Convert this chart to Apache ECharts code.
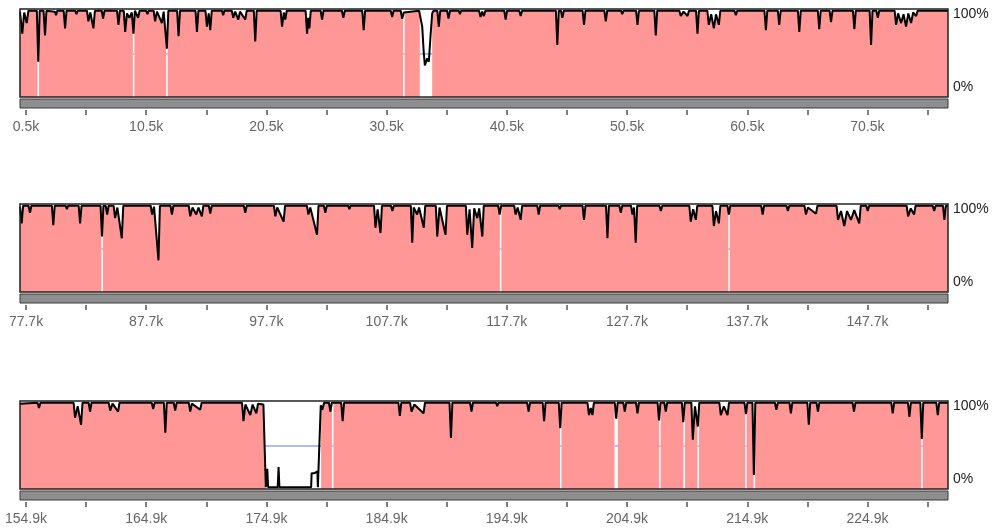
<!DOCTYPE html>
<html>
<head>
<meta charset="utf-8">
<script src="https://cdn.jsdelivr.net/npm/echarts@6/dist/echarts.min.js"></script>
<style>html,body{margin:0;padding:0;background:#fff}#c{width:1000px;height:532px}</style>
</head>
<body>
<div id="c"></div>
<script>
// ---- data (positions in kb, conservation in %) ----
const ranges = [[0, 77.2], [77.2, 154.4], [154.4, 231.6]];
const tickLabels1 = [0.5, 10.5, 20.5, 30.5, 40.5, 50.5, 60.5, 70.5];
const tickLabels2 = [77.7, 87.7, 97.7, 107.7, 117.7, 127.7, 137.7, 147.7];
const tickLabels3 = [154.9, 164.9, 174.9, 184.9, 194.9, 204.9, 214.9, 224.9];
const minorTicks1 = [5.5, 15.5, 25.5, 35.5, 45.5, 55.5, 65.5, 75.5];
const minorTicks2 = [82.7, 92.7, 102.7, 112.7, 122.7, 132.7, 142.7, 152.7];
const minorTicks3 = [159.9, 169.9, 179.9, 189.9, 199.9, 209.9, 219.9, 229.9];
const yLabels = [0, 100];
const threshold = 49;

const curve1 = [
[0,97],[0.19,72],[0.35,96],[0.56,84],[0.7,98],
[1.40,98],[1.52,40],[1.64,98],
[1.96,98],[2.08,70],[2.2,98],
[2.9,97],[3.0,93],[3.1,98],
[3.63,98],[3.75,78],[3.87,98],
[4.6,98],[4.7,94],[4.8,98],
[5.57,98],[5.69,86],[5.85,96],[6.11,78],[6.23,98],
[6.8,98],[6.91,89],[7.03,98],
[8.07,98],[8.19,82],[8.31,98],
[8.63,98],[8.75,74],[8.9,95],[9.1,90],[9.3,96],[9.44,72],[9.56,98],
[9.71,98],[9.83,90],[9.95,98],
[10.5,98],[10.6,94],[10.7,98],
[11.12,98],[11.24,86],[11.4,97],[11.8,84],[11.95,97],[12.22,55],[12.34,98],
[13.07,98],[13.19,69],[13.31,98],
[14.6,98],[14.72,74],[14.84,98],
[15.43,98],[15.55,80],[15.7,95],[15.83,76],[15.95,98],
[16.8,98],[16.9,93],[17.0,98],
[17.62,98],[17.74,90],[17.9,97],[18.16,88],[18.3,97],[18.74,88],[18.86,98],
[19.45,98],[19.57,63],[19.69,98],
[21.68,98],[21.8,80],[21.95,96],[22.07,88],[22.19,98],
[23.76,98],[23.88,72],[23.98,90],[24.07,78],[24.19,98],
[25.01,98],[25.13,88],[25.25,98],
[26.78,98],[26.9,90],[27.02,98],
[28.47,98],[28.59,76],[28.71,98],
[30.84,98],[30.96,91],[31.08,98],
[31.67,98],[31.79,89],[31.93,96],[32.05,98],
[33.2,98],[33.46,80],[33.59,50],[33.68,36],[33.88,44],[34.01,40],[34.15,69],[34.29,95],[34.4,98],
[34.72,98],[34.84,80],[34.96,98],
[35.53,98],[35.65,89],[35.77,98],
[36.5,98],[36.6,94],[36.7,98],
[38.19,98],[38.31,91],[38.45,97],[38.59,92],[38.71,98],
[40.28,98],[40.4,88],[40.52,98],
[41.53,98],[41.65,92],[41.77,98],
[44.58,98],[44.7,59],[44.82,98],
[45.0,98],[45.12,90],[45.24,98],
[46.8,98],[46.92,82],[47.04,98],
[48.61,98],[48.73,86],[48.85,98],
[50.0,98],[50.1,94],[50.2,98],
[51.25,98],[51.37,82],[51.49,98],
[52.77,98],[52.89,70],[53.01,98],
[54.85,98],[54.97,92],[55.2,97],[55.53,92],[55.65,98],
[56.24,98],[56.36,72],[56.48,98],
[57.18,98],[57.3,82],[57.5,94],[57.72,78],[57.9,94],[58.14,82],[58.26,98],
[59.43,98],[59.55,93],[59.67,98],
[61.93,98],[62.05,76],[62.17,98],
[63.04,98],[63.16,82],[63.28,98],
[64.71,98],[64.83,74],[64.95,98],
[66.37,98],[66.49,77],[66.61,98],
[67.35,98],[67.47,85],[67.59,98],
[69.29,98],[69.41,77],[69.53,98],
[70.68,98],[70.8,59],[70.92,98],
[71.24,98],[71.36,90],[71.48,98],
[72.76,98],[72.88,82],[73.05,95],[73.3,84],[73.5,94],[73.71,80],[73.9,95],[74.13,84],[74.3,96],[74.55,92],[74.67,98],
[77.2,98]
];
const gaps1 = [[1.46,1.58],[9.39,9.5],[12.16,12.28],[31.87,31.99],[33.26,34.29]];

const curve2 = [
[77.2,97],[77.34,78],[77.46,98],
[77.91,98],[78.03,90],[78.15,98],
[79.85,98],[79.97,76],[80.09,98],
[81.0,98],[81.1,94],[81.2,98],
[82.08,98],[82.2,78],[82.32,98],
[83.9,98],[84.02,63],[84.14,98],
[84.33,98],[84.45,88],[84.57,98],
[84.99,98],[85.11,84],[85.3,96],[85.67,61],[85.79,98],
[88.07,98],[88.19,88],[88.35,97],[88.72,36],[88.84,98],
[89.72,98],[89.84,88],[89.96,98],
[91.24,98],[91.36,86],[91.55,96],[91.86,88],[92.05,96],[92.33,86],[92.45,98],
[92.91,98],[93.03,89],[93.15,98],
[95.82,98],[95.94,90],[96.06,98],
[98.32,98],[98.44,86],[98.6,96],[99.13,80],[99.25,98],
[101.07,98],[101.19,88],[101.35,96],[101.91,65],[102.03,98],
[102.48,98],[102.6,90],[102.72,98],
[104.5,98],[104.6,94],[104.7,98],
[106.65,98],[106.77,73],[106.95,94],[107.19,67],[107.31,98],
[108.06,98],[108.18,92],[108.3,98],
[109.71,98],[109.83,56],[109.95,96],[110.24,88],[110.4,96],[110.79,73],[110.91,98],
[111.79,98],[111.91,63],[112.1,96],[112.6,65],[112.72,98],
[114.29,98],[114.41,65],[114.6,94],[114.82,50],[114.98,95],[115.24,84],[115.4,95],[115.66,63],[115.78,98],
[116.98,98],[117.1,88],[117.22,98],
[118.31,98],[118.43,88],[118.6,96],[118.85,82],[118.97,98],
[120.23,98],[120.35,88],[120.47,98],
[122.0,98],[122.1,94],[122.2,98],
[124.0,98],[124.12,82],[124.24,98],
[125.95,98],[126.07,61],[126.19,98],
[127.06,98],[127.18,90],[127.3,98],
[128.03,98],[128.15,88],[128.28,96],[128.42,56],[128.54,98],
[130.39,98],[130.51,92],[130.63,98],
[132.88,98],[133.0,80],[133.2,94],[133.42,82],[133.54,98],
[134.8,98],[134.92,75],[135.1,92],[135.34,78],[135.46,98],
[136.05,98],[136.17,88],[136.29,98],
[138.86,98],[138.98,88],[139.1,98],
[140.96,98],[141.08,92],[141.2,98],
[142.46,98],[142.58,88],[142.75,96],[143.42,89],[143.54,98],
[145.13,98],[145.25,82],[145.5,92],[145.77,75],[146.0,92],[146.33,82],[146.6,93],[147.02,78],[147.14,98],
[147.6,98],[147.72,92],[147.84,98],
[150.96,98],[151.08,86],[151.3,95],[151.58,88],[151.7,98],
[153.13,98],[153.25,92],[153.37,98],
[153.98,98],[154.1,82],[154.22,98],
[154.4,98]
];
const gaps2 = [[83.98,84.1],[117.12,117.24],[136.13,136.25]];

const curve3 = [
[154.4,97],
[155.86,98],[155.98,92],[156.1,98],
[158.86,98],[158.98,81],[159.2,94],[159.48,73],[159.6,98],
[160.11,98],[160.23,88],[160.35,98],
[161.78,98],[161.9,89],[162.1,97],[162.56,88],[162.68,98],
[165.36,98],[165.48,91],[165.6,98],
[166.37,98],[166.49,64],[166.61,98],
[167.19,98],[167.31,89],[167.43,98],
[168.44,98],[168.56,88],[168.7,97],[169.39,90],[169.51,98],
[172.87,98],[172.99,77],[173.15,96],[173.56,84],[173.75,96],[174.06,86],[174.2,97],
[174.65,96],[174.85,2],[174.9,2],[174.97,23],[175.04,2],[175.84,2],[175.91,25],[175.98,2],
[178.62,2],[178.66,18],[178.9,18],[178.95,20],[179.14,20],[179.18,2],[179.3,2],[179.42,95],
[179.55,90],[179.7,98],
[180.1,98],[180.22,88],[180.34,98],
[181.12,98],[181.24,77],[181.36,98],
[185.88,98],[186.0,83],[186.12,98],
[186.85,98],[186.97,88],[187.2,96],[187.97,86],[188.09,98],
[190.13,98],[190.25,58],[190.37,98],
[191.84,98],[191.96,88],[192.08,98],
[194.0,98],[194.1,94],[194.2,98],
[196.59,98],[196.71,88],[196.83,98],
[197.88,98],[198.0,77],[198.12,98],
[199.22,98],[199.34,69],[199.46,98],
[201.61,98],[201.73,84],[201.88,92],[202.02,84],[202.14,98],
[203.88,98],[204.0,80],[204.12,98],
[204.59,98],[204.71,88],[204.83,98],
[205.65,98],[205.77,86],[205.89,98],
[207.44,98],[207.56,78],[207.68,98],
[208.0,98],[208.12,88],[208.24,98],
[209.46,98],[209.58,76],[209.7,98],
[210.25,98],[210.37,56],[210.55,94],[210.79,71],[210.91,98],
[212.58,98],[212.7,84],[212.95,94],[213.26,84],[213.38,98],
[214.67,98],[214.79,85],[214.91,98],
[215.33,98],[215.45,16],[215.57,98],
[217.2,98],[217.32,90],[217.44,98],
[218.41,98],[218.53,86],[218.65,98],
[219.9,98],[220.02,73],[220.14,98],
[220.66,98],[220.78,88],[220.9,98],
[223.66,98],[223.78,88],[223.9,98],
[226.88,98],[227.0,86],[227.12,98],
[228.27,98],[228.39,82],[228.51,98],
[229.3,98],[229.42,57],[229.54,98],
[230.63,98],[230.75,84],[230.87,98],
[231.6,98]
];
const gaps3 = [[174.81,179.45],[180.35,180.47],[199.32,199.44],[203.86,204.14],[207.57,207.69],[209.6,209.72],[210.76,210.88],[214.73,214.85],[215.43,215.55],[229.37,229.49]];

// ---- layout / style ----
const curves = [curve1, curve2, curve3];
const gaps = [gaps1, gaps2, gaps3];
const labels = [tickLabels1, tickLabels2, tickLabels3];
const minors = [minorTicks1, minorTicks2, minorTicks3];
const tops = [9, 204, 401];
const H = 88, L = 20, W = 928;
const PINK = '#ff9797';
const FONT = '"Liberation Sans", Arial, sans-serif';

const grid = [], xAxis = [], yAxis = [], series = [], graphic = [];
tops.forEach((t, i) => {
  // data grid
  grid.push({left: L, top: t, width: W, height: H, show: false});
  const gi = grid.length - 1;
  xAxis.push({gridIndex: gi, type: 'value', min: ranges[i][0], max: ranges[i][1], show: false});
  const xi = xAxis.length - 1;
  yAxis.push({gridIndex: gi, type: 'value', min: 0, max: 100, show: false});
  const yi = yAxis.length - 1;
  yAxis.push({
    gridIndex: gi, type: 'value', min: -14, max: 106.5, position: 'right',
    axisLine: {show: false}, axisTick: {show: false}, splitLine: {show: false},
    axisLabel: {customValues: yLabels, formatter: v => v + '%', color: '#222', fontSize: 14, margin: 5, fontFamily: FONT}
  });
  // axis grid (ticks below the grey bar)
  grid.push({left: L, top: t + H + 12, width: W, height: 1, show: false});
  const ai = grid.length - 1;
  xAxis.push({
    gridIndex: ai, type: 'value', min: ranges[i][0], max: ranges[i][1], position: 'bottom',
    axisLine: {show: false}, splitLine: {show: false},
    axisTick: {show: true, customValues: labels[i].concat(minors[i]).sort((a, b) => a - b), length: 5, lineStyle: {color: '#555', width: 1.5}},
    axisLabel: {customValues: labels[i], formatter: v => v.toFixed(1) + 'k', color: '#666', fontSize: 14, margin: 10, fontFamily: FONT}
  });
  yAxis.push({gridIndex: ai, type: 'value', min: 0, max: 1, show: false});

  series.push({
    type: 'line', xAxisIndex: xi, yAxisIndex: yi, data: curves[i], symbol: 'none',
    lineStyle: {width: 0}, areaStyle: {color: PINK, opacity: 1}, z: 1, silent: true
  });
  series.push({
    type: 'custom', xAxisIndex: xi, yAxisIndex: yi, data: gaps[i], z: 2, silent: true,
    encode: {x: [0, 1]},
    renderItem: (params, api) => {
      const s = api.coord([api.value(0), 100]);
      const e = api.coord([api.value(1), 0]);
      const w = Math.max(e[0] - s[0], 1.5);
      const ty = api.coord([api.value(0), threshold])[1];
      return {type: 'group', children: [
        {type: 'rect', shape: {x: s[0], y: s[1], width: w, height: e[1] - s[1]}, style: {fill: '#fff'}},
        {type: 'line', shape: {x1: s[0], y1: ty, x2: s[0] + w, y2: ty}, style: {stroke: '#b6b6f0', lineWidth: 2}}
      ]};
    }
  });
  series.push({
    type: 'line', xAxisIndex: xi, yAxisIndex: yi, data: curves[i], symbol: 'none',
    lineStyle: {color: '#000', width: 2}, z: 3, silent: true
  });
  graphic.push({type: 'rect', z: 100, shape: {x: L, y: t, width: W, height: H}, style: {fill: 'none', stroke: '#222', lineWidth: 1.5}});
  graphic.push({type: 'rect', z: 100, shape: {x: L, y: t + H + 2, width: W, height: 9}, style: {fill: '#8e8e8e', stroke: '#3a3a3a', lineWidth: 1}});
});

const chart = echarts.init(document.getElementById('c'), null, {renderer: 'canvas'});
chart.setOption({animation: false, backgroundColor: '#fff', grid, xAxis, yAxis, series, graphic});
</script>
</body>
</html>
